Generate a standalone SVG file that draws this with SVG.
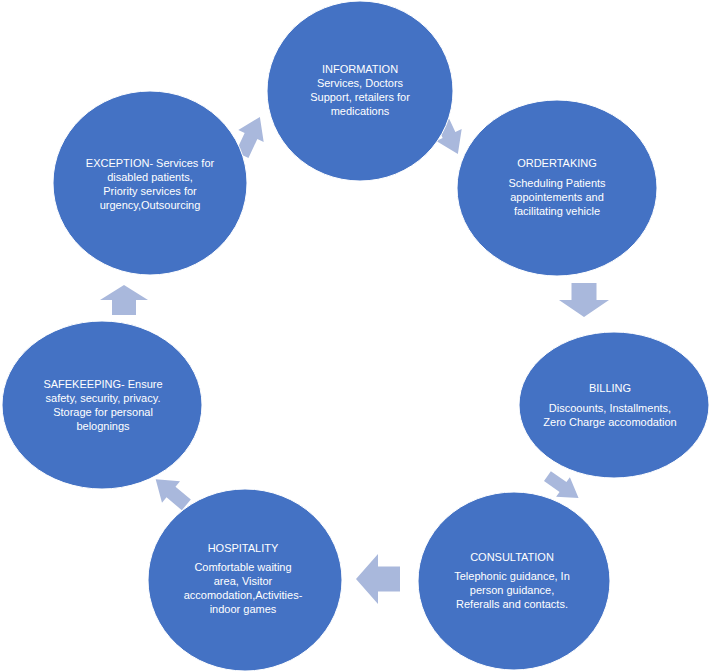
<svg xmlns="http://www.w3.org/2000/svg" width="711" height="672" viewBox="0 0 711 672">
<defs>
<style>
.n{fill:#4472c4;stroke:#fff;stroke-width:1}
.a{fill:#a9b8dc}
text{font-family:"Liberation Sans",Arial,sans-serif;font-size:11px;fill:#fff;text-anchor:middle}
</style>
<path id="arr" d="M-20,-10 H0 V-20 L20,0 L0,20 V10 H-20 Z"/>
</defs>
<rect width="711" height="672" fill="#fff"/>
<g id="connectors">
<use href="#arr" class="a" transform="translate(251,136) rotate(-65) scale(1.05,0.7)"/>
<use href="#arr" class="a" transform="translate(449,135) rotate(65) scale(1.05,0.7)"/>
<use href="#arr" class="a" transform="translate(584,300) rotate(90) scale(0.85,1.25)"/>
<use href="#arr" class="a" transform="translate(563,487) rotate(35) scale(0.95,0.6)"/>
<use href="#arr" class="a" transform="translate(378,579) rotate(180) scale(1.1,1.25)"/>
<use href="#arr" class="a" transform="translate(171,492) rotate(-140) scale(1,0.7)"/>
<use href="#arr" class="a" transform="translate(124,300) rotate(-90) scale(0.75,1.2)"/>
</g>
<g id="information"><ellipse class="n" cx="360" cy="91" rx="93" ry="90"/>
<text x="360" y="73">INFORMATION</text><text x="360" y="87">Services, Doctors</text><text x="360" y="101">Support, retailers for</text><text x="360" y="115">medications</text></g>
<g id="ordertaking"><ellipse class="n" cx="557" cy="188" rx="100" ry="88"/>
<text x="557" y="167">ORDERTAKING</text><text x="557" y="187">Scheduling Patients</text><text x="557" y="201">appointements and</text><text x="557" y="215">facilitating vehicle</text></g>
<g id="billing"><ellipse class="n" cx="614" cy="405" rx="95" ry="73"/>
<text x="610" y="392">BILLING</text><text x="610" y="412">Discoounts, Installments,</text><text x="610" y="426">Zero Charge accomodation</text></g>
<g id="consultation"><ellipse class="n" cx="514" cy="581" rx="96" ry="89"/>
<text x="512" y="561">CONSULTATION</text><text x="512" y="580">Telephonic guidance, In</text><text x="512" y="594">person guidance,</text><text x="512" y="608">Referalls and contacts.</text></g>
<g id="hospitality"><ellipse class="n" cx="245" cy="580" rx="97" ry="91"/>
<text x="243" y="552">HOSPITALITY</text><text x="243" y="571">Comfortable waiting</text><text x="243" y="585">area, Visitor</text><text x="243" y="599">accomodation,Activities-</text><text x="243" y="613">indoor games</text></g>
<g id="safekeeping"><ellipse class="n" cx="102" cy="405" rx="100" ry="84"/>
<text x="103" y="388">SAFEKEEPING- Ensure</text><text x="103" y="402">safety, security, privacy.</text><text x="103" y="416">Storage for personal</text><text x="103" y="430">belognings</text></g>
<g id="exception"><ellipse class="n" cx="150" cy="183" rx="97" ry="92"/>
<text x="150" y="167">EXCEPTION- Services for</text><text x="150" y="181">disabled patients,</text><text x="150" y="195">Priority services for</text><text x="150" y="209">urgency,Outsourcing</text></g>
</svg>
